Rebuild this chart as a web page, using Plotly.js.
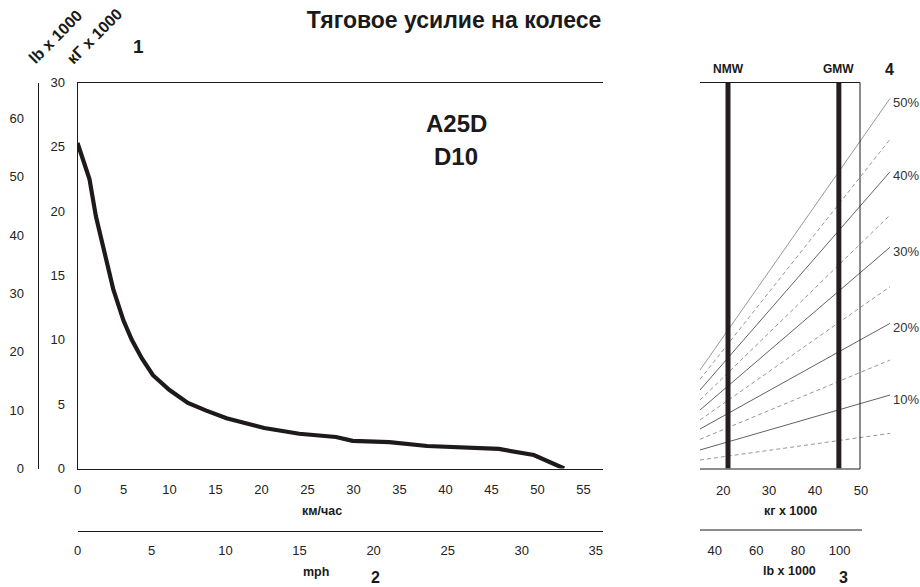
<!DOCTYPE html>
<html>
<head>
<meta charset="utf-8">
<script src="https://cdn.plot.ly/plotly-3.0.1.min.js"></script>
<style>html,body{margin:0;padding:0;background:#fff;}#chart{width:920px;height:587px;}</style>
</head>
<body>
<div id="chart"></div>
<script>
// ---- data ----
const speedKmh = [0, 1.3, 2.0, 3.0, 3.9, 5.0, 5.9, 7.0, 8.2, 10.0, 12.0, 14.0, 16.2, 18.4, 20.3, 24.1, 28.1, 29.9, 33.9, 38.0, 42.0, 45.8, 49.6, 52.9];
const rimpullKg = [25.3, 22.5, 19.6, 16.5, 13.9, 11.5, 10.0, 8.55, 7.25, 6.1, 5.1, 4.5, 3.9, 3.5, 3.15, 2.7, 2.45, 2.15, 2.05, 1.75, 1.62, 1.52, 1.05, 0];

const kgTicks = [0, 5, 10, 15, 20, 25, 30];
const lbTicks = [0, 10, 20, 30, 40, 50, 60];
const kmhTicks = [0, 5, 10, 15, 20, 25, 30, 35, 40, 45, 50, 55];
const mphTicks = [0, 5, 10, 15, 20, 25, 30, 35];
const weightKgTicks = [20, 30, 40, 50];
const weightLbTicks = [40, 60, 80, 100];

const markNames = ['NMW', 'GMW'];
const markWeightKg = [21.05, 45.2];

const gradeNames = ['5%', '10%', '15%', '20%', '25%', '30%', '35%', '40%', '45%', '50%'];
const gradeLabelled = [false, true, false, true, false, true, false, true, false, true];
const gradeWeightKg = [14.95, 56.35];
const gradeStartKg = [0.66, 1.44, 2.27, 3.07, 3.77, 4.55, 5.32, 6.10, 6.93, 7.65];
const gradeEndKg = [2.73, 5.71, 8.43, 11.28, 14.13, 17.2, 19.7, 23.06, 25.58, 28.76];

const KG_TO_LB = 2.20462;
const KMH_PER_MPH = 1.60934;

// ---- geometry helpers (pixels -> paper) ----
const W = 920, H = 587;
const px = v => v / W;
const py = v => 1 - v / H;

const FONT = '"Liberation Sans", Arial, sans-serif';
const mainXMax = 57.12;
const panelXMin = 14.95, panelXMax = 56.78;

const traces = [];
traces.push({
  x: speedKmh, y: rimpullKg, xaxis: 'x', yaxis: 'y', type: 'scatter', mode: 'lines',
  line: {color: '#1e1a1b', width: 4.2}, hoverinfo: 'skip', showlegend: false
});
// dummy traces to anchor secondary axes
traces.push({x: [], y: [], xaxis: 'x2', yaxis: 'y', type: 'scatter', showlegend: false});
traces.push({x: [], y: [], xaxis: 'x', yaxis: 'y2', type: 'scatter', showlegend: false});
traces.push({x: [], y: [], xaxis: 'x4', yaxis: 'y3', type: 'scatter', showlegend: false});

gradeNames.forEach((g, i) => {
  traces.push({
    x: gradeWeightKg, y: [gradeStartKg[i], gradeEndKg[i]], xaxis: 'x3', yaxis: 'y3',
    type: 'scatter', mode: 'lines', name: g, showlegend: false, hoverinfo: 'skip',
    line: gradeLabelled[i]
      ? {color: i === 9 ? '#8c8c8c' : '#505050', width: 0.9}
      : {color: '#8a8a8a', width: 0.9, dash: '4px,3px'}
  });
});
markNames.forEach((m, i) => {
  traces.push({
    x: [markWeightKg[i], markWeightKg[i]], y: [kgTicks[0], kgTicks[kgTicks.length - 1]],
    xaxis: 'x3', yaxis: 'y3', type: 'scatter', mode: 'lines', name: m, showlegend: false,
    hoverinfo: 'skip', line: {color: '#231f20', width: 5}
  });
});

const tickFont = {family: FONT, size: 13, color: '#222'};
const yDomain = [py(468.5), py(82.5)];

const annotations = [];
function ann(text, x, y, size, opts) {
  annotations.push(Object.assign({
    text: text, x: px(x), y: py(y), xref: 'paper', yref: 'paper', showarrow: false,
    xanchor: 'center', yanchor: 'middle', font: {family: FONT, size: size, color: '#1a1a1a'}
  }, opts || {}));
}
ann('<b>A25D</b>', 456, 124, 24);
ann('<b>D10</b>', 456, 156, 24);
ann('<b>lb x 1000</b>', 56, 37, 16, {textangle: -45});
ann('<b>кГ x 1000</b>', 94, 36, 16, {textangle: -45});
ann('<b>1</b>', 138, 47, 19);
ann('<b>км/час</b>', 322, 511, 12.5);
ann('<b>mph</b>', 316, 572, 12.5);
ann('<b>2</b>', 375, 577, 16);
ann('<b>кг x 1000</b>', 790, 511, 12.5);
ann('<b>lb x 1000</b>', 789, 571, 12.5);
ann('<b>3</b>', 843, 577, 16);
ann('<b>4</b>', 889, 70, 16);
markNames.forEach((m, i) => {
  annotations.push({
    text: '<b>' + m + '</b>', x: markWeightKg[i], xref: 'x3', y: py(69), yref: 'paper',
    showarrow: false, xanchor: 'center', yanchor: 'middle',
    font: {family: FONT, size: 12, color: '#1a1a1a'}
  });
});
gradeNames.forEach((g, i) => {
  if (!gradeLabelled[i]) return;
  annotations.push({
    text: g, x: gradeWeightKg[1], y: gradeEndKg[i], xref: 'x3', yref: 'y3',
    showarrow: false, xanchor: 'left', yanchor: 'middle', xshift: 1, yshift: -4,
    font: {family: FONT, size: 13, color: '#333'}
  });
});

const lineStyle = {color: '#1a1a1a', width: 1};
const shapes = [
  {type: 'line', xref: 'paper', yref: 'paper', x0: px(700), x1: px(860), y0: py(82.5), y1: py(82.5), line: lineStyle},
  {type: 'line', xref: 'paper', yref: 'paper', x0: px(860), x1: px(860), y0: py(82.5), y1: py(469), line: lineStyle},
  {type: 'line', xref: 'paper', yref: 'paper', x0: px(700), x1: px(860), y0: py(469), y1: py(469), line: lineStyle},
  {type: 'line', xref: 'paper', yref: 'paper', x0: px(700), x1: px(862), y0: py(530), y1: py(530), line: lineStyle}
];

const layout = {
  width: W, height: H,
  margin: {l: 0, r: 0, t: 0, b: 0},
  paper_bgcolor: '#fff', plot_bgcolor: 'rgba(0,0,0,0)',
  showlegend: false,
  title: {
    text: '<b>Тяговое усилие на колесе</b>', x: px(454), xref: 'paper', xanchor: 'center',
    y: py(20), yref: 'paper', yanchor: 'middle',
    font: {family: FONT, size: 23, color: '#1a1a1a'}
  },
  xaxis: {
    domain: [px(77.5), px(603)], range: [0, mainXMax], anchor: 'y',
    showgrid: false, zeroline: false, showline: true, mirror: true, linecolor: '#1a1a1a', linewidth: 1,
    ticks: '', tickvals: kmhTicks, tickfont: tickFont, ticklabelstandoff: 9, fixedrange: true
  },
  xaxis2: {
    overlaying: 'x', anchor: 'free', position: py(530.5), side: 'bottom', range: [0, mainXMax / KMH_PER_MPH],
    showgrid: false, zeroline: false, showline: true, linecolor: '#1a1a1a', linewidth: 1,
    ticks: '', tickvals: mphTicks, tickfont: tickFont, ticklabelstandoff: 8, fixedrange: true
  },
  yaxis: {
    domain: yDomain, range: [0, 30], anchor: 'x',
    showgrid: false, zeroline: false, showline: true, linecolor: '#1a1a1a', linewidth: 1,
    ticks: '', tickvals: kgTicks, tickfont: tickFont, ticklabelstandoff: 9, fixedrange: true
  },
  yaxis2: {
    overlaying: 'y', anchor: 'free', position: px(37.5), side: 'left', range: [0, 30 * KG_TO_LB],
    showgrid: false, zeroline: false, showline: true, linecolor: '#1a1a1a', linewidth: 1,
    ticks: '', tickvals: lbTicks, tickfont: tickFont, ticklabelstandoff: 11, fixedrange: true
  },
  xaxis3: {
    domain: [px(700), px(892)], range: [panelXMin, panelXMax], anchor: 'y3',
    showgrid: false, zeroline: false, showline: false,
    ticks: '', tickvals: weightKgTicks, tickfont: tickFont, ticklabelstandoff: 12, fixedrange: true
  },
  xaxis4: {
    overlaying: 'x3', anchor: 'free', position: py(530), side: 'bottom',
    range: [panelXMin * KG_TO_LB, panelXMax * KG_TO_LB],
    showgrid: false, zeroline: false, showline: false,
    ticks: '', tickvals: weightLbTicks, tickfont: tickFont, ticklabelstandoff: 11, fixedrange: true
  },
  yaxis3: {
    domain: yDomain, range: [0, 30], anchor: 'x3', visible: false, fixedrange: true
  },
  annotations: annotations,
  shapes: shapes
};

Plotly.newPlot('chart', traces, layout, {displayModeBar: false, staticPlot: true});
</script>
</body>
</html>
